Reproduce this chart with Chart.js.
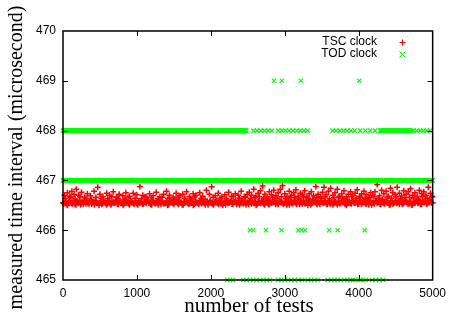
<!DOCTYPE html>
<html>
<head>
<meta charset="utf-8">
<script src="https://cdn.jsdelivr.net/npm/chart.js@4"></script>
<style>
  body { margin: 0; background: #fff; }
  canvas { display: block; }
</style>
</head>
<body>
<canvas id="clockChart" width="452" height="324"></canvas>
<script>
// axis ticks
const xTicks = [0, 1000, 2000, 3000, 4000, 5000];
const yTicks = [465, 466, 467, 468, 469, 470];

// TSC clock: dense band, one value every 25 tests
const tscStep = 25;
const tscBand = [
  466.55,466.58,466.52,466.56,466.59,466.53,466.57,466.51,466.55,466.60,466.54,466.52,466.58,466.56,466.53,466.59,466.55,466.51,466.57,466.54,
  466.56,466.52,466.59,466.55,466.53,466.58,466.51,466.56,466.54,466.60,466.52,466.57,466.55,466.53,466.59,466.56,466.51,466.58,466.54,466.57,
  466.53,466.59,466.55,466.52,466.57,466.54,466.60,466.56,466.51,466.58,466.53,466.55,466.59,466.52,466.56,466.54,466.58,466.51,466.57,466.55,
  466.52,466.57,466.54,466.59,466.56,466.51,466.55,466.58,466.53,466.60,466.55,466.52,466.57,466.54,466.59,466.53,466.56,466.51,466.58,466.55,
  466.57,466.53,466.56,466.60,466.52,466.55,466.58,466.54,466.51,466.57,466.55,466.59,466.53,466.56,466.52,466.58,466.54,466.60,466.55,466.51,
  466.56,466.59,466.53,466.55,466.57,466.52,466.58,466.54,466.60,466.51,466.56,466.53,466.59,466.55,466.57,466.52,466.54,466.58,466.56,466.53,
  466.55,466.51,466.58,466.56,466.53,466.59,466.54,466.57,466.52,466.55,466.60,466.53,466.56,466.58,466.51,466.55,466.57,466.54,466.59,466.52,
  466.58,466.54,466.56,466.52,466.59,466.55,466.51,466.57,466.54,466.58,466.53,466.56,466.60,466.52,466.55,466.57,466.53,466.59,466.54,466.56,
  466.53,466.57,466.55,466.60,466.52,466.56,466.58,466.51,466.55,466.59,466.54,466.57,466.52,466.56,466.53,466.58,466.55,466.51,466.57,466.54,
  466.59,466.55,466.52,466.57,466.54,466.60,466.56,466.53,466.58,466.51,466.55,466.57,466.54,466.59,466.52,466.56,466.58,466.53,466.55,466.57,
  466.55
];
// TSC clock: second half of the band, tests 12, 37, 62, ...
const tscBandOffset = 12;
const tscBand2 = [
  466.53,466.57,466.50,466.59,466.54,466.56,466.52,466.58,466.55,466.51,466.57,466.60,466.53,466.55,466.58,466.52,466.56,466.59,466.54,466.50,
  466.58,466.54,466.56,466.51,466.59,466.53,466.57,466.55,466.60,466.52,466.56,466.54,466.50,466.58,466.55,466.53,466.59,466.56,466.52,466.57,
  466.51,466.55,466.58,466.53,466.56,466.60,466.54,466.52,466.57,466.55,466.59,466.51,466.56,466.58,466.53,466.55,466.50,466.57,466.59,466.54,
  466.56,466.59,466.52,466.55,466.51,466.57,466.58,466.54,466.53,466.56,466.50,466.58,466.55,466.52,466.60,466.57,466.54,466.56,466.51,466.59,
  466.54,466.51,466.57,466.55,466.58,466.53,466.50,466.56,466.59,466.54,466.57,466.52,466.58,466.60,466.55,466.51,466.56,466.53,466.58,466.55,
  466.52,466.56,466.59,466.54,466.50,466.57,466.55,466.58,466.53,466.56,466.59,466.51,466.54,466.57,466.60,466.55,466.52,466.58,466.56,466.53,
  466.57,466.54,466.51,466.58,466.55,466.60,466.52,466.56,466.59,466.53,466.55,466.57,466.50,466.58,466.54,466.56,466.59,466.52,466.55,466.58,
  466.55,466.59,466.53,466.56,466.52,466.58,466.54,466.57,466.51,466.55,466.59,466.56,466.53,466.50,466.57,466.54,466.58,466.55,466.60,466.52,
  466.58,466.52,466.56,466.54,466.59,466.51,466.57,466.55,466.53,466.58,466.56,466.52,466.60,466.54,466.57,466.55,466.51,466.59,466.53,466.56,
  466.54,466.57,466.60,466.52,466.55,466.58,466.53,466.56,466.51,466.57,466.54,466.59,466.55,466.52,466.58,466.56,466.53,466.57,466.60,466.55
];

// TSC clock: sparser outliers above the band [test, value]
const tscUpper = [
  [20,466.70],[60,466.75],[90,466.68],[120,466.78],[150,466.72],[180,466.82],[210,466.70],[250,466.76],[290,466.66],[330,466.73],
  [370,466.69],[420,466.78],[470,466.86],[500,466.72],[540,466.67],[590,466.74],[630,466.70],[680,466.77],[720,466.66],[760,466.72],
  [810,466.69],[850,466.75],[900,466.68],[950,466.74],[1000,466.71],[1040,466.88],[1080,466.70],[1130,466.66],[1170,466.73],[1220,466.69],
  [1260,466.76],[1310,466.67],[1360,466.72],[1400,466.78],[1440,466.70],[1490,466.66],[1530,466.74],[1580,466.69],[1620,466.72],[1670,466.77],
  [1710,466.67],[1760,466.73],[1800,466.70],[1850,466.75],[1890,466.68],[1940,466.80],[1980,466.72],[2010,466.87],[2060,466.69],[2100,466.74],
  [2150,466.67],[2190,466.71],[2240,466.76],[2280,466.68],[2330,466.73],[2370,466.70],[2410,466.78],[2450,466.67],[2490,466.72],
  [2520,466.76],[2550,466.70],[2580,466.82],[2610,466.68],[2640,466.74],[2670,466.79],[2700,466.89],[2730,466.72],[2760,466.67],[2790,466.77],
  [2820,466.71],[2850,466.80],[2880,466.69],[2910,466.75],[2940,466.82],[2970,466.90],[3000,466.73],[3030,466.67],[3060,466.78],[3090,466.70],
  [3120,466.75],[3150,466.81],[3180,466.68],[3210,466.74],[3240,466.71],[3270,466.79],[3300,466.66],[3330,466.73],[3360,466.77],[3390,466.69],
  [3420,466.88],[3450,466.72],[3480,466.67],[3510,466.76],[3530,466.86],[3560,466.71],[3590,466.78],[3620,466.84],[3650,466.70],[3680,466.75],
  [3710,466.82],[3740,466.68],[3770,466.73],[3800,466.79],[3830,466.67],[3860,466.72],[3890,466.77],[3920,466.70],[3950,466.74],[3980,466.81],
  [4010,466.68],[4040,466.73],[4070,466.78],[4100,466.71],[4130,466.66],[4160,466.75],[4190,466.70],[4220,466.77],[4250,466.92],[4280,466.69],
  [4310,466.80],[4340,466.73],[4370,466.78],[4400,466.68],[4430,466.84],[4460,466.75],[4490,466.71],[4520,466.86],[4550,466.74],[4580,466.69],
  [4610,466.79],[4640,466.72],[4670,466.77],[4700,466.83],[4730,466.70],[4760,466.75],[4790,466.68],[4820,466.80],[4850,466.73],[4880,466.77],
  [4910,466.70],[4940,466.86],[4970,466.74],[4995,466.68]
];
// TSC clock: ragged top edge of the band [test, value]
const tscFringe = [
  [35,466.64],[105,466.66],[165,466.63],[230,466.67],[310,466.64],[385,466.62],[445,466.66],[520,466.64],[605,466.63],[660,466.67],
  [740,466.64],[830,466.62],[880,466.66],[975,466.64],[1060,466.63],[1110,466.67],[1195,466.65],[1285,466.63],[1340,466.66],[1420,466.64],
  [1510,466.62],[1560,466.66],[1645,466.64],[1735,466.63],[1780,466.67],[1870,466.64],[1920,466.62],[2030,466.66],[2125,466.64],[2210,466.63],
  [2300,466.67],[2390,466.64],[2470,466.66],[2535,466.63],[2595,466.65],[2655,466.67],[2715,466.64],[2775,466.62],[2835,466.66],[2895,466.64],
  [2955,466.67],[3015,466.63],[3075,466.65],[3135,466.66],[3195,466.63],[3255,466.67],[3315,466.64],[3375,466.62],[3435,466.66],[3495,466.64],
  [3545,466.67],[3605,466.63],[3665,466.65],[3725,466.66],[3785,466.64],[3845,466.62],[3905,466.67],[3965,466.64],[4025,466.66],[4085,466.63],
  [4145,466.65],[4205,466.67],[4265,466.64],[4325,466.62],[4385,466.66],[4445,466.64],[4505,466.67],[4565,466.63],[4625,466.65],[4685,466.66],
  [4745,466.64],[4805,466.62],[4865,466.67],[4925,466.64],[4985,466.66]
];

// TOD clock: runs of tests reading the same value [from, to, every]
const tod467Runs = [[0, 2520, 10], [2545, 2970, 10], [3000, 5000, 10]];
const tod468Runs = [[0, 2050, 10], [2080, 2480, 10], [2575, 2840, 50], [2910, 3340, 50], [3645, 3980, 50],
                    [4020, 4090, 70], [4155, 4220, 65], [4290, 4720, 12], [4740, 5000, 45]];
const tod465Runs = [[2220, 2305, 40], [2440, 2800, 45], [2910, 3045, 45], [3085, 3245, 50], [3310, 3445, 45],
                    [3580, 3805, 45], [3850, 4115, 35], [4180, 4345, 50]];
// TOD clock: isolated readings
const tod469Tests = [2855, 2960, 3217, 4008];
const tod466Tests = [2530, 2575, 2745, 2955, 3185, 3230, 3275, 3600, 3715, 4080];

const tscPoints = []
  .concat(tscBand.map((v, i) => ({ x: i * tscStep, y: v })))
  .concat(tscBand2.map((v, i) => ({ x: i * tscStep + tscBandOffset, y: v })))
  .concat(tscFringe.map(p => ({ x: p[0], y: p[1] })))
  .concat(tscUpper.map(p => ({ x: p[0], y: p[1] })));

function runPoints(runs, value) {
  const pts = [];
  runs.forEach(r => {
    for (let t = r[0]; t <= r[1]; t += r[2]) pts.push({ x: t, y: value });
  });
  return pts;
}
const todPoints = []
  .concat(runPoints(tod467Runs, 467))
  .concat(runPoints(tod468Runs, 468))
  .concat(runPoints(tod465Runs, 465))
  .concat(tod469Tests.map(t => ({ x: t, y: 469 })))
  .concat(tod466Tests.map(t => ({ x: t, y: 466 })));

const sansFont = "'Liberation Sans', Arial, sans-serif";
const serifFont = "'Liberation Serif', 'Times New Roman', serif";

function drawMark(ctx, style, x, y, r, color) {
  ctx.save();
  ctx.strokeStyle = color;
  ctx.lineWidth = 1;
  ctx.beginPath();
  if (style === 'cross') {
    ctx.moveTo(x - r, y); ctx.lineTo(x + r, y);
    ctx.moveTo(x, y - r); ctx.lineTo(x, y + r);
  } else {
    ctx.moveTo(x - r, y - r); ctx.lineTo(x + r, y + r);
    ctx.moveTo(x - r, y + r); ctx.lineTo(x + r, y - r);
  }
  ctx.stroke();
  ctx.restore();
}

// gnuplot-like frame, inward ticks, titles and key
const framePlugin = {
  id: 'frame',
  afterDraw(chart) {
    const ctx = chart.ctx;
    const a = chart.chartArea;
    const xs = chart.scales.x, ys = chart.scales.y;
    ctx.save();
    ctx.strokeStyle = '#000';
    ctx.lineWidth = 1.5;
    ctx.strokeRect(a.left, a.top, a.right - a.left, a.bottom - a.top);
    ctx.lineWidth = 1;
    ctx.beginPath();
    xTicks.slice(1, -1).forEach(v => {
      const px = Math.round(xs.getPixelForValue(v)) + 0.5;
      ctx.moveTo(px, a.bottom); ctx.lineTo(px, a.bottom - 5);
      ctx.moveTo(px, a.top); ctx.lineTo(px, a.top + 5);
    });
    yTicks.slice(1, -1).forEach(v => {
      const py = Math.round(ys.getPixelForValue(v)) + 0.5;
      ctx.moveTo(a.left, py); ctx.lineTo(a.left + 5, py);
      ctx.moveTo(a.right, py); ctx.lineTo(a.right - 5, py);
    });
    ctx.stroke();

    // axis titles
    ctx.fillStyle = '#000';
    ctx.font = '21px ' + serifFont;
    ctx.textAlign = 'center';
    ctx.textBaseline = 'middle';
    ctx.fillText('number of tests', 249, 306);
    ctx.save();
    ctx.translate(17, (a.top + a.bottom) / 2 + 2);
    ctx.rotate(-Math.PI / 2);
    ctx.font = '20px ' + serifFont;
    ctx.fillText('measured time interval (microsecond)', 0, 0);
    ctx.restore();

    // key
    ctx.font = '12px ' + sansFont;
    ctx.textAlign = 'right';
    ctx.fillText('TSC clock', 377, 42);
    ctx.fillText('TOD clock', 377, 54);
    ctx.restore();
    drawMark(ctx, 'cross', 402.5, 42.5, 3, '#ff0000');
    drawMark(ctx, 'crossRot', 402.5, 54.5, 3, '#00ff00');
  }
};

new Chart(document.getElementById('clockChart').getContext('2d'), {
  type: 'scatter',
  data: {
    datasets: [
      {
        label: 'TSC clock',
        data: tscPoints,
        pointStyle: 'cross',
        pointRadius: 3,
        pointBorderWidth: 1.5,
        borderColor: '#ff0000',
        backgroundColor: '#ff0000',
        order: 1,
        clip: false
      },
      {
        label: 'TOD clock',
        data: todPoints,
        pointStyle: 'crossRot',
        pointRadius: 3,
        pointBorderWidth: 1.2,
        borderColor: '#00ff00',
        backgroundColor: '#00ff00',
        order: 0,
        clip: false
      }
    ]
  },
  options: {
    responsive: false,
    animation: false,
    devicePixelRatio: 1,
    layout: { padding: { top: 31, right: 16, left: 0, bottom: 0 } },
    plugins: {
      legend: { display: false },
      tooltip: { enabled: false }
    },
    scales: {
      x: {
        type: 'linear',
        min: 0,
        max: 5000,
        afterFit(scale) { scale.height = 44; },
        afterBuildTicks(scale) { scale.ticks = xTicks.map(v => ({ value: v })); },
        grid: { display: false, drawTicks: false },
        border: { display: false },
        ticks: {
          padding: 6, color: '#000', maxRotation: 0,
          font: { family: sansFont, size: 12 },
          callback: v => String(v)
        }
      },
      y: {
        type: 'linear',
        min: 465,
        max: 470,
        afterFit(scale) { scale.width = 63; },
        afterBuildTicks(scale) { scale.ticks = yTicks.map(v => ({ value: v })); },
        grid: { display: false, drawTicks: false },
        border: { display: false },
        ticks: {
          padding: 7, color: '#000',
          font: { family: sansFont, size: 12 },
          callback: v => String(v)
        }
      }
    }
  },
  plugins: [framePlugin]
});
</script>
</body>
</html>
